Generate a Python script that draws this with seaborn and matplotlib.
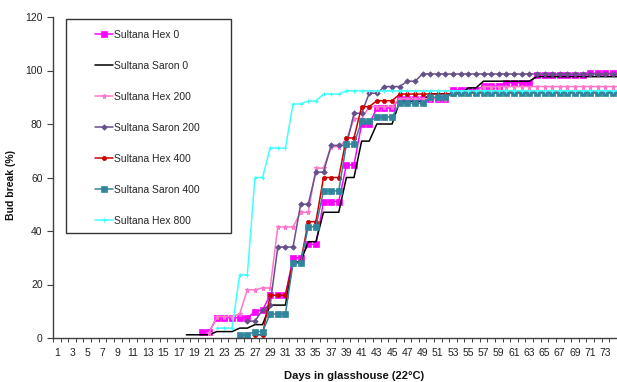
import matplotlib
matplotlib.use("Agg")
import matplotlib.pyplot as plt
import seaborn as sns
import pandas as pd
from matplotlib.patches import Rectangle
from matplotlib.ticker import FixedLocator

# ---------------- data ----------------
series_names = ["Sultana Hex 0", "Sultana Saron 0", "Sultana Hex 200",
                "Sultana Saron 200", "Sultana Hex 400", "Sultana Saron 400",
                "Sultana Hex 800"]

# first day with a value for each series
start_days = [20, 18, 21, 26, 27, 25, 22]

hex0 = [2.4, 2.4, 7.6, 7.6, 7.6, 7.6, 7.6, 9.8, 10.5, 16, 16, 16, 30, 30, 35, 35,
        51, 51, 51, 64.7, 64.7, 80, 80, 86, 86, 86, 89.5, 89.5, 89.5, 89.5, 89.5,
        89.5, 89.5, 92.7, 92.7, 92.7, 92.7, 94.2, 94.2, 94.2, 95.4, 95.4, 95.4,
        95.4, 98.3, 98.3, 98.3, 98.3, 98.3, 98.3, 98.3, 99, 99, 99, 99, 99]
saron0 = [1.2, 1.2, 1.2, 1.2, 2.4, 2.4, 2.4, 3.7, 3.7, 5, 5, 12.3, 12.3, 12.3,
          28.5, 28.5, 36, 36, 47, 47, 47, 60, 60, 73.6, 73.6, 80, 80, 80, 88.5,
          88.5, 88.5, 88.5, 91.3, 91.3, 91.3, 91.3, 91.3, 93.5, 93.5, 96, 96, 96,
          96, 96, 96, 96, 97.7, 97.7, 97.7, 97.7, 97.7, 97.7, 97.7, 97.7, 97.7,
          97.7, 97.7, 97.7]
hex200 = [2, 8, 8, 8, 9, 18, 18, 18.7, 18.7, 41.5, 41.5, 41.5, 47, 47, 63.5, 63.5,
          71.5, 71.5, 74, 82, 82, 86.5, 86.5, 86.5, 86.5, 89.5, 89.5, 89.5, 89.5,
          89.5, 89.5, 89.5, 92, 92, 92, 92, 94, 94, 94, 94, 94, 94, 94, 94, 94,
          94, 94, 94, 94, 94, 94, 94, 94, 94, 94]
saron200 = [6.3, 6.3, 10.5, 12.5, 34, 34, 34, 50, 50, 62, 62, 72, 72, 72, 84, 84,
            91.5, 91.5, 94, 94, 94, 96, 96, 98.7, 98.7, 98.7, 98.7, 98.7, 98.7,
            98.7, 98.7, 98.7, 98.7, 98.7, 98.7, 98.7, 98.7, 98.7, 98.7, 98.7,
            98.7, 98.7, 98.7, 98.7, 98.7, 98.7, 98.7, 98.7, 98.7, 98.7]
hex400 = [1.2, 1.2, 16, 16, 16, 28.5, 28.5, 43.5, 43.5, 60, 60, 60, 74.8, 74.8,
          86.5, 86.5, 88.7, 88.7, 88.7, 91.2, 91.2, 91.2, 91.2, 91.2, 91.2, 91.2,
          91.2, 92, 92, 92, 92, 92, 92, 92, 92, 92, 92, 92, 92, 92, 92, 92, 92,
          92, 92, 92, 92, 92, 92]
saron400 = [1.1, 1.1, 2.4, 2.4, 9, 9, 9, 28, 28, 41.6, 41.6, 55, 55, 55, 72.5,
            72.5, 81, 81, 82.6, 82.6, 82.6, 87.8, 87.8, 87.8, 87.8, 90, 90, 90,
            91.5, 91.5, 91.5, 91.5, 91.5, 91.5, 91.5, 91.5, 91.5, 91.5, 91.5,
            91.5, 91.5, 91.5, 91.5, 91.5, 91.5, 91.5, 91.5, 91.5, 91.5, 91.5, 91.5]
hex800 = [3.7, 3.7, 3.7, 23.6, 23.6, 60, 60, 71, 71, 71, 87.5, 87.5, 88.6, 88.6,
          91.2, 91.2, 91.2, 92.4, 92.4, 92.4, 92.4, 92.4, 92.4, 92.4, 92.4, 92.4,
          92.4, 92.4, 92.4, 92.4, 92.4, 92.4, 92.4, 92.4, 92.4, 92.4, 92.4, 92.4,
          92.4, 92.4, 92.4, 92.4, 92.4, 92.4, 92.4, 92.4, 92.4, 92.4, 92.4, 92.4,
          92.4, 92.4, 92.4, 92.4]

all_values = [hex0, saron0, hex200, saron200, hex400, saron400, hex800]

day_categories = list(range(1, 80))           # category axis (partly cropped)
tick_days = list(range(1, 74, 2))
tick_labels = [str(d) for d in tick_days]
y_ticks = [0, 20, 40, 60, 80, 100, 120]

# ---------------- styling ----------------
colors = ["#FF00FF", "#000000", "#FF77CC", "#66508A", "#CC0000", "#31859C", "#40FFFF"]
markers = ["s", None, "*", "D", "o", "s", "+"]
msizes = [4.2, 0, 3.6, 2.8, 3.0, 4.2, 3.2]

sns.set_theme(style="white")
plt.rcParams["font.family"] = ["Liberation Sans", "DejaVu Sans"]

W, H = 617, 382
fig = plt.figure(figsize=(W / 100, H / 100), dpi=100)
ax_left, ax_right, ax_top, ax_bot = 53, 655, 17, 338
ax = fig.add_axes([ax_left / W, 1 - ax_bot / H, (ax_right - ax_left) / W, (ax_bot - ax_top) / H])

for name, start, vals, c, m, ms in zip(series_names, start_days, all_values, colors, markers, msizes):
    df = pd.DataFrame({"Day": list(range(start, start + len(vals))), "Bud break": vals})
    kw = dict(color=c, linewidth=1.1, label=name, ax=ax, errorbar=None)
    if m is not None:
        kw.update(marker=m, markersize=ms, markeredgecolor=c, markerfacecolor=c,
                  markeredgewidth=0.8 if m in ("+", "*") else 0.5)
    sns.lineplot(data=df, x="Day", y="Bud break", **kw)

ax.set_xlim(0.5, len(day_categories) + 0.5)
ax.set_ylim(0, 120)
ax.set_yticks(y_ticks)
ax.set_yticklabels([str(v) for v in y_ticks])
ax.xaxis.set_major_locator(FixedLocator(tick_days))
ax.set_xticklabels(tick_labels)
ax.xaxis.set_minor_locator(FixedLocator([d + 0.5 for d in range(0, 80)]))

for s in ["top", "right"]:
    ax.spines[s].set_visible(False)
for s in ["left", "bottom"]:
    ax.spines[s].set_color("#404040")
    ax.spines[s].set_linewidth(1.0)

ax.tick_params(axis="y", which="major", direction="out", length=4, width=0.8,
               color="#404040", labelsize=7.5, labelcolor="#222222", pad=3.5, left=True)
ax.tick_params(axis="x", which="major", length=0, labelsize=7.5, labelcolor="#222222", pad=7, bottom=True)
ax.tick_params(axis="x", which="minor", direction="out", length=3, width=0.7,
               color="#404040", bottom=True)
ax.grid(False)

ax.set_ylabel("Bud break (%)", fontsize=7.5, fontweight="bold", color="#111111")
ax.yaxis.set_label_coords((15.7 - ax_left) / (ax_right - ax_left), (ax_bot - 185) / (ax_bot - ax_top))
ax.set_xlabel("Days in glasshouse (22°C)", fontsize=8, fontweight="bold", color="#111111")
ax.xaxis.set_label_coords(0.5, (ax_bot - 371) / (ax_bot - ax_top))

# legend with a separate frame box
handles, labels = ax.get_legend_handles_labels()
leg = ax.legend(handles, labels, loc="upper left",
                bbox_to_anchor=(95 / W, 1 - 29.5 / H), bbox_transform=fig.transFigure,
                frameon=False, borderpad=0, borderaxespad=0, fontsize=7.5,
                labelspacing=2.02, handlelength=1.7, handletextpad=0.15, numpoints=1)
fig.patches.append(Rectangle((66 / W, 1 - 232.7 / H), (231 - 66) / W, (232.7 - 19.3) / H,
                             transform=fig.transFigure, fill=False,
                             edgecolor="#333333", linewidth=1.0))

fig.savefig("out.png", dpi=100)
